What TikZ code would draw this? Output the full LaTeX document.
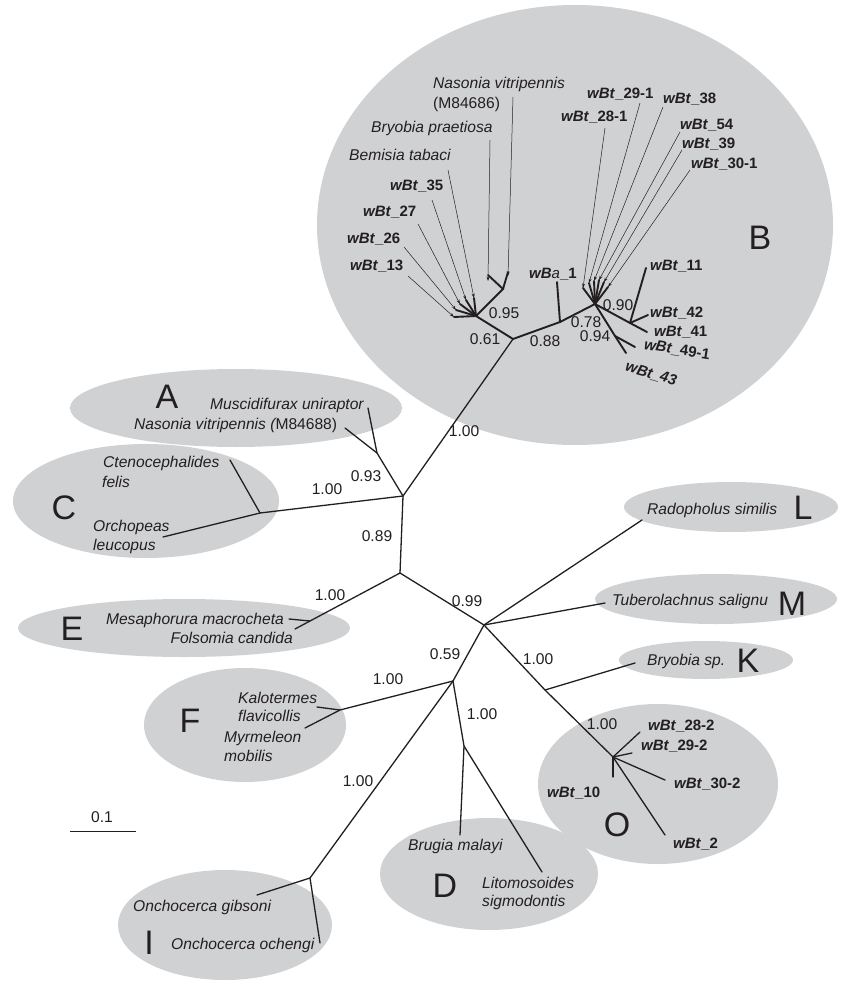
\documentclass[tikz,border=0pt]{standalone}
\usepackage{fontspec}
\setmainfont{Liberation Sans}
\usetikzlibrary{arrows.meta}
\definecolor{ellgray}{RGB}{208,209,211}
\definecolor{ink}{RGB}{35,31,32}
\newcommand{\wbtlab}[1]{\textbf{\textit{wBt}\_#1}}
\begin{document}
\begin{tikzpicture}[x=1pt,y=-1pt,
  blob/.style={fill=ellgray},
  br/.style={draw=ink,line width=1.3pt,line cap=round},
  thk/.style={draw=ink,line width=1.9pt,line cap=round},
  arr/.style={draw=ink,line width=0.5pt,-{Stealth[length=4.5pt,width=3pt]}},
  it/.style={inner sep=0pt,text=ink,font=\fontsize{15.6}{17}\selectfont\itshape},
  rm/.style={inner sep=0pt,text=ink,font=\fontsize{15.6}{17}\selectfont},
  wb/.style={inner sep=0pt,text=ink,font=\fontsize{15}{17}\selectfont},
  big/.style={inner sep=0pt,text=ink,font=\fontsize{34}{36}\selectfont}]
\useasboundingbox (0,0) rectangle (843,984);
% clusters
\fill[blob] (575,225) ellipse [x radius=258, y radius=220];
\fill[blob] (236,408) ellipse [x radius=166, y radius=39];
\fill[blob] (146,501) ellipse [x radius=133, y radius=57];
\fill[blob] (184,628) ellipse [x radius=166, y radius=29];
\fill[blob] (245,725) ellipse [x radius=101, y radius=57];
\fill[blob] (225,925) ellipse [x radius=107, y radius=55];
\fill[blob] (489,874) ellipse [x radius=109, y radius=56];
\fill[blob] (658,784) ellipse [x radius=120, y radius=80];
\fill[blob] (706,660) ellipse [x radius=87, y radius=19];
\fill[blob] (716,599) ellipse [x radius=121, y radius=25];
\fill[blob] (731,507) ellipse [x radius=107, y radius=25];
% tree coordinates
\coordinate (n1) at (403,496);
\coordinate (nA) at (377,453);
\coordinate (lMus) at (368,408);
\coordinate (lNas2) at (345,428);
\coordinate (nC) at (260,513);
\coordinate (lCte) at (230,460);
\coordinate (lOrc) at (163,537);
\coordinate (n2) at (400,573);
\coordinate (nE) at (310,621);
\coordinate (lMes) at (289,619);
\coordinate (lFol) at (295,629);
\coordinate (n3) at (484,625);
\coordinate (lRad) at (642,520);
\coordinate (lTub) at (605,603);
\coordinate (n4) at (545,690);
\coordinate (lBry) at (635,663);
\coordinate (nO) at (613,757);
\coordinate (lO28) at (640,732);
\coordinate (lO29) at (632,753);
\coordinate (lO30) at (665,780);
\coordinate (lO10) at (613,777);
\coordinate (lO2) at (665,835);
\coordinate (n5) at (453,681);
\coordinate (nF) at (340,710);
\coordinate (lKal) at (317,707);
\coordinate (lMyr) at (305,728);
\coordinate (nI) at (310,878);
\coordinate (lGib) at (257,895);
\coordinate (lOch) at (320,943);
\coordinate (nD) at (464,746);
\coordinate (lBru) at (460,835);
\coordinate (lLit) at (542,872);
% B cluster coordinates
\coordinate (nB) at (513,339);
\coordinate (nBL) at (476,316);
\coordinate (nBL2) at (503,289);
\coordinate (lBp) at (488,275);
\coordinate (lNv) at (508,272);
\coordinate (f1) at (474,298);
\coordinate (f2) at (466,300);
\coordinate (f3) at (460,304);
\coordinate (f4) at (456,310);
\coordinate (f5) at (454,317);
\coordinate (nWa) at (560,322);
\coordinate (lWa) at (557,282);
\coordinate (nWt) at (595,304);
\coordinate (g1) at (583,288);
\coordinate (g2) at (589,283);
\coordinate (g3) at (594,281);
\coordinate (g4) at (599,280);
\coordinate (g5) at (604,282);
\coordinate (g6) at (608,287);
\coordinate (n42) at (630,323);
\coordinate (l11) at (646,268);
\coordinate (l42) at (648,315);
\coordinate (l41) at (647,332);
\coordinate (n49) at (615,336);
\coordinate (l49) at (635,347);
\coordinate (l43) at (626,353);
% branches
\draw[br] (n1) -- (nB);
\draw[br] (n1) -- (nA) -- (lMus);
\draw[br] (nA) -- (lNas2);
\draw[br] (n1) -- (nC) -- (lCte);
\draw[br] (nC) -- (lOrc);
\draw[br] (n1) -- (n2) -- (nE) -- (lFol);
\draw[br] (nE) -- (lMes);
\draw[br] (n2) -- (n3) -- (lRad);
\draw[br] (n3) -- (lTub);
\draw[br] (n3) -- (n4) -- (lBry);
\draw[br] (n4) -- (nO) -- (lO2);
\draw[br] (nO) -- (lO28);
\draw[br] (nO) -- (lO29);
\draw[br] (nO) -- (lO30);
\draw[br] (nO) -- (lO10);
\draw[br] (n3) -- (n5) -- (nF) -- (lKal);
\draw[br] (nF) -- (lMyr);
\draw[br] (n5) -- (nI) -- (lGib);
\draw[br] (nI) -- (lOch);
\draw[br] (n5) -- (nD) -- (lBru);
\draw[br] (nD) -- (lLit);
% B cluster branches
\draw[thk] (nB) -- (nBL) -- (nBL2) -- (lBp);
\draw[thk] (nBL2) -- (lNv);
\foreach \f in {f1,f2,f3,f4,f5} \draw[thk] (nBL) -- (\f);
\draw[thk] (nB) -- (nWa) -- (lWa);
\draw[thk] (nWa) -- (nWt);
\foreach \g in {g1,g2,g3,g4,g5,g6} \draw[thk] (nWt) -- (\g);
\draw[thk] (nWt) -- (n42) -- (l41);
\draw[thk] (n42) -- (l11);
\draw[thk] (n42) -- (l42);
\draw[thk] (nWt) -- (n49) -- (l43);
\draw[thk] (n49) -- (l49);
% arrow start points
\coordinate (aNv) at (513,97);
\coordinate (aBp) at (490,140);
\coordinate (aBt) at (448,170);
\coordinate (a35) at (432,200);
\coordinate (a27) at (418,224);
\coordinate (a26) at (404,247);
\coordinate (a13) at (408,276);
\coordinate (a281) at (605,128);
\coordinate (a291) at (640,103);
\coordinate (a38) at (663,107);
\coordinate (a54) at (680,132);
\coordinate (a39) at (682,150);
\coordinate (a301) at (690,170);
\draw[arr] (aNv) -- ([yshift=-4]lNv);
\draw[arr] (aBp) -- ([yshift=-6]lBp);
\draw[arr] (aBt) -- (f1);
\draw[arr] (a35) -- (f2);
\draw[arr] (a27) -- (f3);
\draw[arr] (a26) -- (f4);
\draw[arr] (a13) -- (f5);
\draw[arr] (a281) -- (g1);
\draw[arr] (a291) -- (g2);
\draw[arr] (a38) -- (g3);
\draw[arr] (a54) -- (g4);
\draw[arr] (a39) -- (g5);
\draw[arr] (a301) -- (g6);
% B cluster labels
\node[it,anchor=west] (tNv) at (433,84) {Nasonia vitripennis};
\node[rm,anchor=west] (tNv2) at (433,104) {(M84686)};
\node[it,anchor=west] (tBp) at (371,128) {Bryobia praetiosa};
\node[it,anchor=west] (tBt) at (349,155) {Bemisia tabaci};
\node[wb,anchor=west] (t35) at (390,186) {\wbtlab{35}};
\node[wb,anchor=west] (t27) at (363,212) {\wbtlab{27}};
\node[wb,anchor=west] (t26) at (347,239) {\wbtlab{26}};
\node[wb,anchor=west] (t13) at (350,266) {\wbtlab{13}};
\node[wb,anchor=west] (t291) at (587,94) {\wbtlab{29-1}};
\node[wb,anchor=west] (t38) at (663,99) {\wbtlab{38}};
\node[wb,anchor=west] (t281) at (561,117) {\wbtlab{28-1}};
\node[wb,anchor=west] (t54) at (680,125) {\wbtlab{54}};
\node[wb,anchor=west] (t39) at (682,144) {\wbtlab{39}};
\node[wb,anchor=west] (t301) at (691,164) {\wbtlab{30-1}};
\node[wb,anchor=west] (tWa) at (529,274) {\textbf{\textit{wB}}\textit{a}\textbf{\_1}};
\node[wb,anchor=west] (t11) at (650,266) {\wbtlab{11}};
\node[wb,anchor=west] (t42) at (650,313) {\wbtlab{42}};
\node[wb,anchor=west] (t41) at (654,332) {\wbtlab{41}};
\node[wb,rotate=-9] (t491) at (677,350) {\wbtlab{49-1}};
\node[wb,rotate=-16] (t43) at (651,374) {\textbf{\textit{wBt\_43}}};
\node[big] (cB) at (760,238) {B};
% bootstrap values in B
\node[rm] (b095) at (504,313) {0.95};
\node[rm] (b061) at (485,339) {0.61};
\node[rm] (b088) at (545,341) {0.88};
\node[rm] (b078) at (586,322) {0.78};
\node[rm] (b094) at (595,336) {0.94};
\node[rm] (b090) at (618,305) {0.90};
% other bootstrap values
\node[rm] (b100B) at (464,431) {1.00};
\node[rm] (b093) at (366,476) {0.93};
\node[rm] (b100C) at (327,489) {1.00};
\node[rm] (b089) at (377,536) {0.89};
\node[rm] (b100E) at (330,595) {1.00};
\node[rm] (b099) at (467,601) {0.99};
\node[rm] (b059) at (445,654) {0.59};
\node[rm] (b100K) at (538,659) {1.00};
\node[rm] (b100F) at (388,679) {1.00};
\node[rm] (b100D) at (482,714) {1.00};
\node[rm] (b100I) at (358,781) {1.00};
\node[rm] (b100O) at (602,724) {1.00};
% cluster letters
\node[big] (cA) at (167,397) {A};
\node[big] (cC) at (64,508) {C};
\node[big] (cE) at (72,629) {E};
\node[big] (cF) at (190,721) {F};
\node[big] (cI) at (149,943) {I};
\node[big] (cD) at (445,886) {D};
\node[big] (cO) at (617,825) {O};
\node[big] (cK) at (748,661) {K};
\node[big] (cM) at (792,604) {M};
\node[big] (cL) at (803,508) {L};
% taxon labels
\node[it,anchor=west] (tMus) at (210,405) {Muscidifurax uniraptor};
\node[it,anchor=west] (tNas2) at (134,425) {Nasonia vitripennis (\upshape M84688)};
\node[it,anchor=west] (tCte) at (103,463) {Ctenocephalides};
\node[it,anchor=west] (tCte2) at (102,482) {felis};
\node[it,anchor=west] (tOrc) at (93,527) {Orchopeas};
\node[it,anchor=west] (tOrc2) at (93,546) {leucopus};
\node[it,anchor=east] (tMes) at (284,620) {Mesaphorura macrocheta};
\node[it,anchor=east] (tFol) at (293,638) {Folsomia candida};
\node[it,anchor=west] (tKal) at (238,698) {Kalotermes};
\node[it,anchor=west] (tKal2) at (238,716) {flavicollis};
\node[it,anchor=west] (tMyr) at (224,738) {Myrmeleon};
\node[it,anchor=west] (tMyr2) at (224,756) {mobilis};
\node[it,anchor=west] (tGib) at (133,907) {Onchocerca gibsoni};
\node[it,anchor=west] (tOch) at (171,945) {Onchocerca ochengi};
\node[it,anchor=west] (tBru) at (408,846) {Brugia malayi};
\node[it,anchor=west] (tLit) at (482,883) {Litomosoides};
\node[it,anchor=west] (tLit2) at (482,902) {sigmodontis};
\node[it,anchor=west] (tRad) at (647,510) {Radopholus similis};
\node[it,anchor=west] (tTub) at (612,601) {Tuberolachnus salignu};
\node[it,anchor=west] (tBry) at (647,661) {Bryobia sp.};
\node[wb,anchor=west] (tO28) at (648,726) {\wbtlab{28-2}};
\node[wb,anchor=west] (tO29) at (641,746) {\wbtlab{29-2}};
\node[wb,anchor=west] (tO30) at (674,784) {\wbtlab{30-2}};
\node[wb,anchor=west] (tO10) at (547,793) {\wbtlab{10}};
\node[wb,anchor=west] (tO2) at (673,844) {\wbtlab{2}};
% scale bar
\coordinate (s1) at (70,831);
\coordinate (s2) at (136,831);
\draw[draw=ink,line width=1pt] (s1) -- (s2);
\node[rm] (tScale) at (102,817) {0.1};
\end{tikzpicture}
\end{document}
